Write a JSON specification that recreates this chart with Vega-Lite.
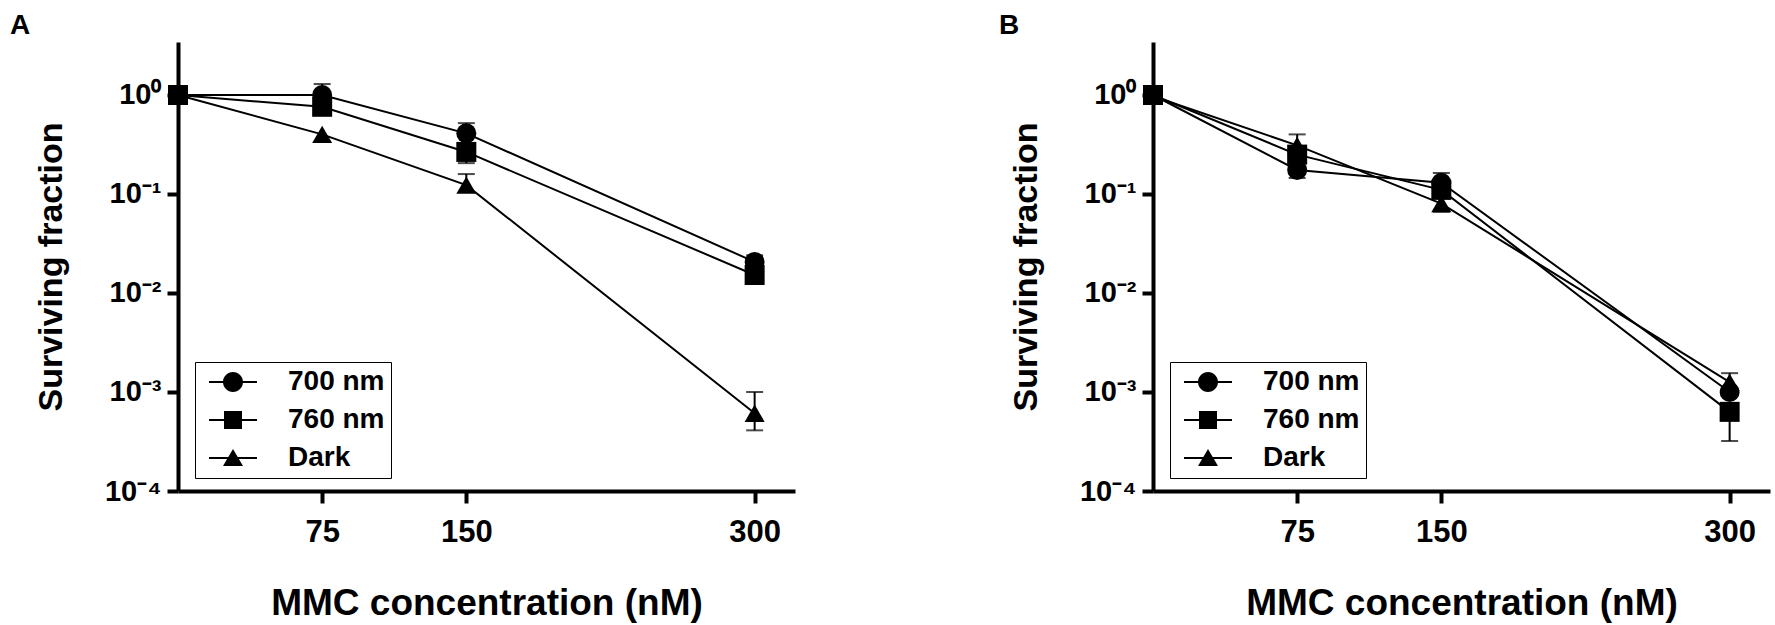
{
  "$schema": "https://vega.github.io/schema/vega-lite/v6.json",
  "background": "white",
  "padding": {"left": 10, "top": 12, "right": 5, "bottom": 5},
  "datasets": {
    "pts": [
      {"panel": "A", "series": "700 nm", "conc": 0, "value": 1.0},
      {"panel": "A", "series": "700 nm", "conc": 75, "value": 1.0},
      {"panel": "A", "series": "700 nm", "conc": 150, "value": 0.41},
      {"panel": "A", "series": "700 nm", "conc": 300, "value": 0.0206},
      {"panel": "A", "series": "Dark", "conc": 0, "value": 1.0},
      {"panel": "A", "series": "Dark", "conc": 75, "value": 0.4},
      {"panel": "A", "series": "Dark", "conc": 150, "value": 0.123},
      {"panel": "A", "series": "Dark", "conc": 300, "value": 0.00061},
      {"panel": "A", "series": "760 nm", "conc": 0, "value": 1.0},
      {"panel": "A", "series": "760 nm", "conc": 75, "value": 0.76},
      {"panel": "A", "series": "760 nm", "conc": 150, "value": 0.266},
      {"panel": "A", "series": "760 nm", "conc": 300, "value": 0.0152},
      {"panel": "B", "series": "Dark", "conc": 0, "value": 0.97},
      {"panel": "B", "series": "Dark", "conc": 75, "value": 0.31},
      {"panel": "B", "series": "Dark", "conc": 150, "value": 0.08},
      {"panel": "B", "series": "Dark", "conc": 300, "value": 0.00126},
      {"panel": "B", "series": "760 nm", "conc": 0, "value": 1.0},
      {"panel": "B", "series": "760 nm", "conc": 75, "value": 0.25},
      {"panel": "B", "series": "760 nm", "conc": 150, "value": 0.11},
      {"panel": "B", "series": "760 nm", "conc": 300, "value": 0.00063},
      {"panel": "B", "series": "700 nm", "conc": 0, "value": 1.0},
      {"panel": "B", "series": "700 nm", "conc": 75, "value": 0.175},
      {"panel": "B", "series": "700 nm", "conc": 150, "value": 0.13},
      {"panel": "B", "series": "700 nm", "conc": 300, "value": 0.001}
    ],
    "err": [
      {"panel": "A", "series": "700 nm", "conc": 75, "from": 1.0, "to": 1.29},
      {"panel": "A", "series": "700 nm", "conc": 150, "from": 0.41, "to": 0.52},
      {"panel": "A", "series": "760 nm", "conc": 150, "from": 0.266, "to": 0.205},
      {"panel": "A", "series": "Dark", "conc": 150, "from": 0.123, "to": 0.159},
      {"panel": "A", "series": "700 nm", "conc": 300, "from": 0.0206, "to": 0.024},
      {"panel": "A", "series": "Dark", "conc": 300, "from": 0.00061, "to": 0.001},
      {"panel": "A", "series": "Dark", "conc": 300, "from": 0.00061, "to": 0.00041},
      {"panel": "B", "series": "Dark", "conc": 75, "from": 0.31, "to": 0.4},
      {"panel": "B", "series": "700 nm", "conc": 75, "from": 0.175, "to": 0.145},
      {"panel": "B", "series": "700 nm", "conc": 150, "from": 0.13, "to": 0.163},
      {"panel": "B", "series": "Dark", "conc": 150, "from": 0.08, "to": 0.066},
      {"panel": "B", "series": "Dark", "conc": 300, "from": 0.00126, "to": 0.00155},
      {"panel": "B", "series": "760 nm", "conc": 300, "from": 0.00063, "to": 0.00032}
    ]
  },
  "spacing": 204,
  "resolve": {
    "scale": {"x": "independent", "y": "independent", "shape": "independent"},
    "legend": {"shape": "independent"}
  },
  "hconcat": [
    {
      "width": 617,
      "height": 449,
      "title": {"text": "A", "dx": -168, "fontSize": 28, "fontWeight": "bold"},
      "resolve": {"scale": {"shape": "independent"}, "legend": {"shape": "independent"}},
      "layer": [
        {
          "data": {"name": "err"},
          "transform": [{"filter": "datum.panel == 'A'"}],
          "mark": {"type": "rule", "color": "black", "strokeWidth": 2},
          "encoding": {
            "x": {"field": "conc", "type": "quantitative"},
            "y": {"field": "from", "type": "quantitative"},
            "y2": {"field": "to"}
          }
        },
        {
          "data": {"name": "err"},
          "transform": [{"filter": "datum.panel == 'A'"}],
          "mark": {"type": "tick", "orient": "horizontal", "color": "black", "size": 17, "thickness": 2},
          "encoding": {
            "x": {"field": "conc", "type": "quantitative"},
            "y": {"field": "to", "type": "quantitative"}
          }
        },
        {
          "data": {"name": "pts"},
          "transform": [{"filter": "datum.panel == 'A'"}],
          "mark": {"type": "line", "color": "black", "strokeWidth": 2},
          "encoding": {
            "x": {"field": "conc", "type": "quantitative"},
            "y": {"field": "value", "type": "quantitative"},
            "detail": {"field": "series"}
          }
        },
        {
          "data": {"name": "pts"},
          "transform": [{"filter": "datum.panel == 'A'"}],
          "mark": {"type": "point", "filled": true, "color": "black", "size": 400, "opacity": 1},
          "encoding": {
            "x": {
              "field": "conc", "type": "quantitative",
              "scale": {"domain": [0, 321], "nice": false, "zero": false},
              "axis": {"values": [75, 150, 300], "title": "MMC concentration (nM)"}
            },
            "y": {
              "field": "value", "type": "quantitative",
              "scale": {"type": "log", "domain": [0.0001, 3.43], "nice": false},
              "axis": {
                "values": [1, 0.1, 0.01, 0.001, 0.0001],
                "title": "Surviving fraction",
                "labelExpr": "round(log(datum.value) / LN10) == 0 ? '10⁰' : round(log(datum.value) / LN10) == -1 ? '10⁻¹' : round(log(datum.value) / LN10) == -2 ? '10⁻²' : round(log(datum.value) / LN10) == -3 ? '10⁻³' : '10⁻⁴'"
              }
            },
            "shape": {
              "field": "series", "type": "nominal",
              "scale": {"domain": ["700 nm", "760 nm", "Dark"], "range": ["circle", "square", "triangle-up"]},
              "legend": null
            }
          }
        },
        {
          "data": {"name": "pts"},
          "transform": [{"filter": "datum.panel == 'legend-only'"}],
          "mark": {"type": "point", "filled": true, "color": "black", "size": 400, "opacity": 1},
          "encoding": {
            "x": {"field": "conc", "type": "quantitative"},
            "y": {"field": "value", "type": "quantitative"},
            "shape": {
              "field": "series", "type": "nominal",
              "scale": {
                "domain": ["700 nm", "760 nm", "Dark"],
                "range": [
                  "M-2.4,-0.1H-0.95V0.1H-2.4Z M0.95,-0.1H2.4V0.1H0.95Z M1,0A1,1,0,1,1,-1,0A1,1,0,1,1,1,0Z",
                  "M-2.4,-0.1H-0.85V0.1H-2.4Z M0.85,-0.1H2.4V0.1H0.85Z M-0.9,-0.9H0.9V0.9H-0.9Z",
                  "M-2.4,-0.1H-0.4V0.1H-2.4Z M0.4,-0.1H2.4V0.1H0.4Z M0,-0.9L1,0.8H-1Z"
                ]
              },
              "legend": {
                "title": null,
                "orient": "none",
                "legendX": 17,
                "legendY": 320
              }
            }
          }
        }
      ]
    },
    {
      "width": 617,
      "height": 449,
      "title": {"text": "B", "dx": -154, "fontSize": 28, "fontWeight": "bold"},
      "resolve": {"scale": {"shape": "independent"}, "legend": {"shape": "independent"}},
      "layer": [
        {
          "data": {"name": "err"},
          "transform": [{"filter": "datum.panel == 'B'"}],
          "mark": {"type": "rule", "color": "black", "strokeWidth": 2},
          "encoding": {
            "x": {"field": "conc", "type": "quantitative"},
            "y": {"field": "from", "type": "quantitative"},
            "y2": {"field": "to"}
          }
        },
        {
          "data": {"name": "err"},
          "transform": [{"filter": "datum.panel == 'B'"}],
          "mark": {"type": "tick", "orient": "horizontal", "color": "black", "size": 17, "thickness": 2},
          "encoding": {
            "x": {"field": "conc", "type": "quantitative"},
            "y": {"field": "to", "type": "quantitative"}
          }
        },
        {
          "data": {"name": "pts"},
          "transform": [{"filter": "datum.panel == 'B'"}],
          "mark": {"type": "line", "color": "black", "strokeWidth": 2},
          "encoding": {
            "x": {"field": "conc", "type": "quantitative"},
            "y": {"field": "value", "type": "quantitative"},
            "detail": {"field": "series"}
          }
        },
        {
          "data": {"name": "pts"},
          "transform": [{"filter": "datum.panel == 'B'"}],
          "mark": {"type": "point", "filled": true, "color": "black", "size": 400, "opacity": 1},
          "encoding": {
            "x": {
              "field": "conc", "type": "quantitative",
              "scale": {"domain": [0, 321], "nice": false, "zero": false},
              "axis": {"values": [75, 150, 300], "title": "MMC concentration (nM)"}
            },
            "y": {
              "field": "value", "type": "quantitative",
              "scale": {"type": "log", "domain": [0.0001, 3.43], "nice": false},
              "axis": {
                "values": [1, 0.1, 0.01, 0.001, 0.0001],
                "title": "Surviving fraction",
                "labelExpr": "round(log(datum.value) / LN10) == 0 ? '10⁰' : round(log(datum.value) / LN10) == -1 ? '10⁻¹' : round(log(datum.value) / LN10) == -2 ? '10⁻²' : round(log(datum.value) / LN10) == -3 ? '10⁻³' : '10⁻⁴'"
              }
            },
            "shape": {
              "field": "series", "type": "nominal",
              "scale": {"domain": ["700 nm", "760 nm", "Dark"], "range": ["circle", "square", "triangle-up"]},
              "legend": null
            }
          }
        },
        {
          "data": {"name": "pts"},
          "transform": [{"filter": "datum.panel == 'legend-only'"}],
          "mark": {"type": "point", "filled": true, "color": "black", "size": 400, "opacity": 1},
          "encoding": {
            "x": {"field": "conc", "type": "quantitative"},
            "y": {"field": "value", "type": "quantitative"},
            "shape": {
              "field": "series", "type": "nominal",
              "scale": {
                "domain": ["700 nm", "760 nm", "Dark"],
                "range": [
                  "M-2.4,-0.1H-0.95V0.1H-2.4Z M0.95,-0.1H2.4V0.1H0.95Z M1,0A1,1,0,1,1,-1,0A1,1,0,1,1,1,0Z",
                  "M-2.4,-0.1H-0.85V0.1H-2.4Z M0.85,-0.1H2.4V0.1H0.85Z M-0.9,-0.9H0.9V0.9H-0.9Z",
                  "M-2.4,-0.1H-0.4V0.1H-2.4Z M0.4,-0.1H2.4V0.1H0.4Z M0,-0.9L1,0.8H-1Z"
                ]
              },
              "legend": {
                "title": null,
                "orient": "none",
                "legendX": 17,
                "legendY": 320
              }
            }
          }
        }
      ]
    }
  ],
  "config": {
    "view": {"stroke": null},
    "font": "Liberation Sans",
    "title": {
      "anchor": "start",
      "frame": "group",
      "fontSize": 28,
      "fontWeight": "bold",
      "color": "black",
      "baseline": "alphabetic",
      "offset": 2
    },
    "axis": {
      "grid": false,
      "domainColor": "black",
      "domainWidth": 4,
      "tickColor": "black",
      "tickWidth": 4,
      "tickSize": 12,
      "labelFont": "Liberation Sans",
      "labelFontWeight": "bold",
      "labelColor": "black",
      "titleFont": "Liberation Sans",
      "titleFontWeight": "bold",
      "titleColor": "black"
    },
    "axisX": {
      "labelFontSize": 31,
      "labelPadding": 14,
      "titleFontSize": 37,
      "titlePadding": 38
    },
    "axisY": {
      "labelFontSize": 29,
      "labelPadding": 6,
      "tickSize": 11,
      "titleFontSize": 34,
      "titlePadding": 36
    },
    "legend": {
      "labelFont": "Liberation Sans",
      "labelFontWeight": "bold",
      "labelFontSize": 28,
      "labelColor": "black",
      "symbolSize": 400,
      "symbolFillColor": "black",
      "symbolStrokeColor": "black",
      "symbolStrokeWidth": 0,
      "strokeColor": "black",
      "padding": 6,
      "rowPadding": 10,
      "symbolOffset": 18,
      "labelOffset": 41
    }
  }
}
